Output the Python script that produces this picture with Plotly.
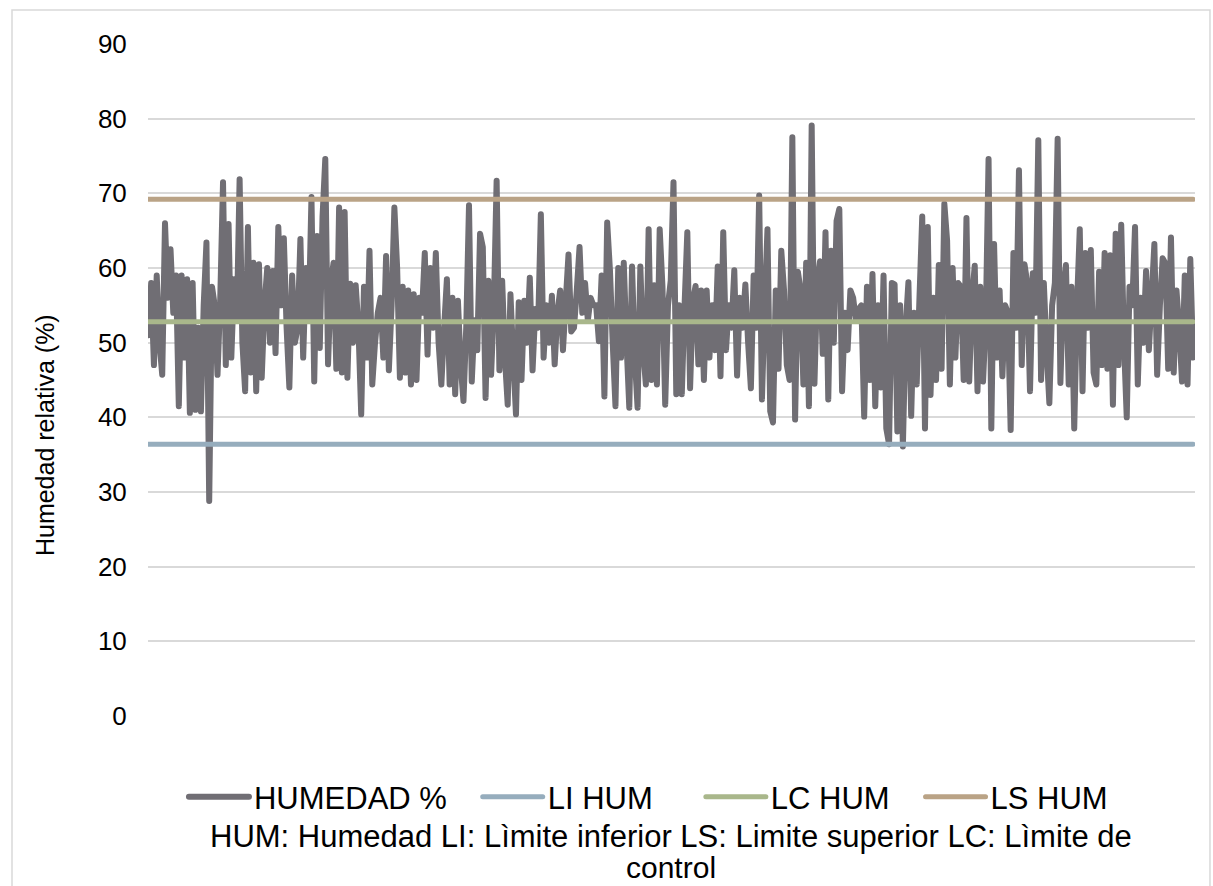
import plotly.graph_objects as go

# Relative humidity readings (%), in sampling order
humedad = [
    51, 58, 47, 59, 50, 45.7, 66, 56, 62.5, 54, 59, 41.5, 59, 48, 58.5, 40.6, 58, 41, 52, 40.8,
    55, 63.4, 28.8, 57.5, 55, 45.7, 56, 71.5, 47, 65.9, 48, 58.5, 53, 71.9, 50, 43.5, 65.5, 46,
    60.7, 43.5, 60.5, 45.3, 55, 60, 50, 59.6, 48.6, 65.5, 55, 64, 52, 44, 59, 50,
    52, 63.9, 48, 60, 53, 69.5, 44.8, 64.3, 49.3, 66.8, 74.6, 47.1, 58, 60.7, 46.5, 68.1, 46, 67.5,
    45.3, 57.9, 50, 57.7, 52, 40.4, 57.5, 48, 62.3, 44.4, 50, 54, 56, 48, 61.6, 46.3, 55, 68.1,
    60, 45.3, 57.5, 46, 57, 44.4, 56.5, 45, 56, 54, 62, 48.4, 60, 52, 62, 50, 44.4, 52,
    58.5, 44.4, 56, 43.1, 55.6, 47, 42.2, 52, 68.4, 44.8, 53, 49, 64.6, 62.8, 42.6, 58.3, 45.7, 55,
    71.7, 46.3, 58.3, 48, 41.7, 56.5, 48, 40.4, 55.4, 45, 55.6, 50, 58.7, 46.3, 54.5, 52, 67.2, 48,
    55, 50, 56.3, 47.1, 54, 57, 49, 55.5, 61.8, 51.5, 52, 57, 62.8, 54, 58, 53, 56, 55,
    55, 50.2, 59, 42.8, 66.1, 59.7, 50, 41.5, 60, 48, 60.7, 50, 41.3, 60.2, 48, 41.3, 60.2, 49,
    44.4, 65.2, 45, 57.7, 44.4, 65.2, 57.5, 41.7, 55, 58.3, 71.5, 43.1, 55, 43.1, 55, 64.8, 43.9, 55.6,
    57.6, 47.1, 57, 45, 57, 48, 55, 49, 60.2, 45.5, 64.8, 49, 55, 52, 59.7, 45.6, 56, 52,
    57.8, 50, 43.9, 59, 52, 69.7, 42.4, 55, 65.2, 40.8, 39.3, 57, 46.5, 62.3, 57, 47, 45, 77.5,
    39.7, 59.5, 57, 44.4, 60.7, 41.5, 79.1, 44.5, 58, 60.9, 48.5, 64.8, 42.4, 62.3, 50, 66.3, 67.9, 43.5,
    54, 49, 57, 56, 53, 54.5, 55, 40.1, 57.5, 45, 59.2, 41.5, 55, 44, 59, 38.5, 36.4, 58,
    57.8, 38.1, 55, 36.1, 52, 58.1, 40.2, 54, 44.4, 56, 66.9, 38.5, 65.5, 43, 56, 45, 60.4, 46.5,
    68.6, 63.7, 44.4, 60, 48, 58, 57.5, 45, 66.7, 44.8, 56, 60.3, 43.5, 57.5, 44.8, 53, 74.6, 38.5,
    63.2, 48, 57, 45.5, 55, 54, 38.3, 62, 52, 73.1, 47, 60.5, 58, 43.5, 59.3, 54, 77.1, 45,
    58, 49, 41.9, 55, 58, 77.3, 44.6, 57, 60.4, 44.4, 57.5, 38.5, 55, 65.2, 43.5, 62, 52, 62.4,
    46, 44.4, 59.5, 47, 62, 46.5, 61.7, 41.7, 64.6, 47, 65.8, 50, 40, 57.5, 55, 65.5, 44.4, 56,
    50, 59.6, 49, 56, 63.2, 45.7, 55, 61.3, 60.6, 46.5, 64.1, 46, 57, 52, 44.8, 59, 44.4, 61.2, 48,
]

# Control limits (%)
li_hum = 36.4   # lower limit
lc_hum = 52.8   # control (centre) line
ls_hum = 69.2   # upper limit

y_ticks = [0, 10, 20, 30, 40, 50, 60, 70, 80, 90]

n = len(humedad)
muestras = list(range(n))

FONT = "Liberation Sans, Arial, sans-serif"
PAD = "\u00a0"  # keeps spacing between legend entries

fig = go.Figure()
fig.add_trace(go.Scatter(x=muestras, y=humedad, mode="lines", name="HUMEDAD %" + PAD * 3,
                         line=dict(color="#706e74", width=6, simplify=False)))
fig.add_trace(go.Scatter(x=muestras, y=[li_hum] * n, mode="lines", name="LI HUM" + PAD * 5,
                         line=dict(color="#96adbd", width=5)))
fig.add_trace(go.Scatter(x=muestras, y=[lc_hum] * n, mode="lines", name="LC HUM" + PAD * 3,
                         line=dict(color="#a9b78b", width=5)))
fig.add_trace(go.Scatter(x=muestras, y=[ls_hum] * n, mode="lines", name="LS HUM",
                         line=dict(color="#baa386", width=5)))

fig.update_layout(
    width=1213, height=886,
    margin=dict(l=148, r=18, t=44, b=170),
    paper_bgcolor="white", plot_bgcolor="white",
    font=dict(family=FONT, color="#000000"),
    showlegend=True,
    legend=dict(orientation="h", x=0.478, xanchor="center", y=-0.1205, yanchor="middle",
                font=dict(size=31, family=FONT, color="#000000"),
                bgcolor="rgba(0,0,0,0)", itemwidth=60),
    xaxis=dict(range=[-0.15, n - 1 + 0.7], showgrid=False, zeroline=False,
               showticklabels=False, showline=False, ticks=""),
    yaxis=dict(range=[0, 90], tickvals=y_ticks, ticktext=[str(v) for v in y_ticks],
               showgrid=True, gridcolor="#d9d9d9", gridwidth=1.5, zeroline=False,
               showline=False, ticks="outside", ticklen=15, tickcolor="rgba(0,0,0,0)",
               tickfont=dict(size=26, family=FONT, color="#000000")),
    annotations=[
        dict(text="Humedad relativa (%)", xref="paper", yref="paper",
             x=-0.0984, y=0.418, textangle=-90, showarrow=False,
             xanchor="center", yanchor="middle",
             font=dict(size=25, family=FONT, color="#000000")),
        dict(text="HUM: Humedad LI: Lìmite inferior LS: Limite superior LC: Lìmite de",
             xref="paper", yref="paper", x=0.4995, y=-0.1786, showarrow=False,
             xanchor="center", yanchor="middle",
             font=dict(size=31, family=FONT, color="#000000")),
        dict(text="control", xref="paper", yref="paper", x=0.4995, y=-0.226,
             showarrow=False, xanchor="center", yanchor="middle",
             font=dict(size=30, family=FONT, color="#000000")),
    ],
    shapes=[
        dict(type="rect", xref="paper", yref="paper", x0=-0.1299, x1=1.0143,
             y0=-0.27, y1=1.0506, line=dict(color="#d9d9d9", width=1.5),
             fillcolor="rgba(0,0,0,0)", layer="below"),
    ],
)

# Round joins/caps on the series lines, as in spreadsheet charts
post = """
var gd = document.getElementsByClassName('plotly-graph-div')[0];
function roundLines(){
  gd.querySelectorAll('.scatterlayer .js-line, .legendlines path').forEach(function(p){
    p.style.strokeLinejoin = 'round'; p.style.strokeLinecap = 'round';
  });
}
roundLines();
gd.on('plotly_afterplot', roundLines);
"""

fig.write_html("out.html", post_script=post)
